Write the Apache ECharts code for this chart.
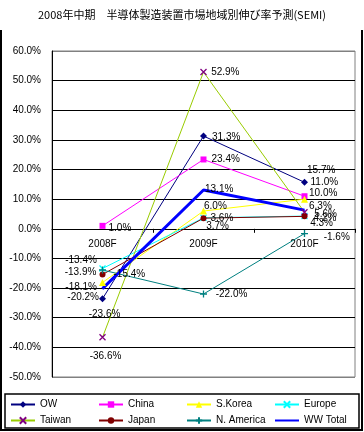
<!DOCTYPE html>
<html><head><meta charset="utf-8">
<script src="https://cdn.jsdelivr.net/npm/echarts@6/dist/echarts.min.js"></script>
<style>html,body{margin:0;padding:0;background:#fff}#c{width:364px;height:432px}</style>
</head><body><div id="c"></div>
<script>
const titleText = '2008年中期　半導体製造装置市場地域別伸び率予測(SEMI)';
const categories = ['2008F', '2009F', '2010F'];
const seriesNames = ['OW', 'China', 'S.Korea', 'Europe', 'Taiwan', 'Japan', 'N. America', 'WW Total'];
const ow = [-23.6, 31.3, 15.7];
const china = [1.0, 23.4, 11.0];
const sKorea = [-18.1, 6.0, 10.0];
const europe = [-13.4, 3.7, 4.3];
const taiwan = [-36.6, 52.9, 5.6];
const japan = [-15.4, 3.6, 4.2];
const nAmerica = [-13.9, -22.0, -1.6];
const wwTotal = [-20.2, 13.1, 6.3];
const yMin = -50, yMax = 60, yStep = 10;

const values = [ow, china, sKorea, europe, taiwan, japan, nAmerica, wwTotal];

// layout
const GRID = {left: 52, right: 9, top: 51, bottom: 55};
const plotH = 432 - GRID.top - GRID.bottom;

// styles
const styles = [
  {line: '#000080', item: '#000080', symbol: 'diamond', size: 7, width: 1},
  {line: '#FF00FF', item: '#FF00FF', symbol: 'rect', size: 6, width: 1},
  {line: '#FFFF00', item: '#FFFF00', symbol: 'triangle', size: 7, width: 1},
  {line: '#00FFFF', item: '#00FFFF', symbol: 'path://M0,0L10,10M10,0L0,10', size: 6, width: 1, stroke: true},
  {line: '#99CC00', item: '#800080', symbol: 'path://M0,0L10,10M10,0L0,10', size: 6, width: 1, stroke: true},
  {line: '#800000', item: '#800000', symbol: 'circle', size: 6, width: 1},
  {line: '#008080', item: '#008080', symbol: 'path://M5,0L5,10M0,5L10,5', size: 7, width: 1, stroke: true},
  {line: '#0000FF', item: '#0000FF', symbol: 'circle', size: 1, width: 3}
];
const labelPlace = [
  [['bottom', 2, 2], ['right', 0, 1], ['right', -6, -12]],
  [['right', -2, 2], ['right', 0, 0], ['right', -2, -14]],
  [['left', 3, 5], ['right', -8, -5], ['right', -4, -6]],
  [['left', 3, -8], ['right', -6, 8], ['right', -3, 7]],
  [['bottom', 3, 5], ['right', -1, 0], ['right', 1, 2]],
  [['right', 3, 0], ['right', -1, 0], ['right', 1, 2]],
  [['left', 3, 2], ['right', 3, 0], ['right', 10, 4]],
  [['left', 2, 9], ['right', -4, -1], ['right', -1, -4]]
];

const FONT = 'Liberation Sans';
const series = seriesNames.map((name, i) => {
  const s = styles[i];
  return {
    name, type: 'line',
    data: values[i].map((v, j) => ({
      value: v,
      label: {position: labelPlace[i][j][0], offset: [labelPlace[i][j][1], labelPlace[i][j][2]]}
    })),
    symbol: s.symbol, symbolSize: s.size, showAllSymbol: true,
    lineStyle: {color: s.line, width: s.width},
    itemStyle: s.stroke ? {color: s.item, borderColor: s.item, borderWidth: 1.3} : {color: s.item, borderWidth: 0},
    label: {show: true, fontSize: 10, fontFamily: FONT, color: '#000', distance: 5,
      formatter: p => p.value.toFixed(1) + '%'},
    emphasis: {disabled: true},
    animation: false
  };
});

const yColors = [];
for (let v = yMin; v <= yMax; v += yStep) yColors.push((v === yMin || v === yMax) ? '#808080' : '#000000');

// x axis sits at the zero line
const zeroOffset = -plotH * (0 - yMin) / (yMax - yMin);

const legendBase = {left: 10, padding: 0, itemWidth: 24, itemHeight: 8, itemGap: 0,
  textStyle: {fontSize: 10, fontFamily: FONT, color: '#000', width: 58, overflow: 'none', lineHeight: 15}};
const legendItems = seriesNames.map(n => n === 'WW Total' ? {name: n, itemStyle: {opacity: 0}} : {name: n});

const chart = echarts.init(document.getElementById('c'), null, {renderer: 'canvas'});
chart.setOption({
  animation: false,
  backgroundColor: '#fff',
  title: {text: titleText, left: 'center', top: 9, padding: 0,
    textStyle: {fontSize: 11, fontWeight: 'normal', color: '#000', fontFamily: 'Noto Sans CJK JP'}},
  grid: Object.assign({show: true, borderColor: '#808080', borderWidth: 1}, GRID),
  xAxis: {type: 'category', data: categories, boundaryGap: true, offset: zeroOffset,
    axisLine: {onZero: false, lineStyle: {color: '#000', width: 1}},
    axisTick: {show: true, length: 4, lineStyle: {color: '#000'}},
    axisLabel: {fontSize: 10, fontFamily: FONT, color: '#000', margin: 10}},
  yAxis: {type: 'value', min: yMin, max: yMax, interval: yStep,
    axisLine: {show: true, lineStyle: {color: '#000', width: 1}},
    axisTick: {show: false},
    axisLabel: {fontSize: 10, fontFamily: FONT, color: '#000', margin: 11, formatter: v => v.toFixed(1) + '%'},
    splitLine: {show: true, lineStyle: {color: yColors, width: 1}}},
  legend: [
    Object.assign({top: 397, data: legendItems.slice(0, 4)}, legendBase),
    Object.assign({top: 413, data: legendItems.slice(4)}, legendBase)
  ],
  series,
  graphic: [
    {type: 'polyline', shape: {points: [[1, 30], [1, 430], [362, 430], [362, 30]]}, style: {stroke: '#000', lineWidth: 2, fill: null}, silent: true},
    {type: 'rect', shape: {x: 5, y: 394, width: 354, height: 34}, style: {stroke: '#000', lineWidth: 1.5, fill: null}, silent: true}
  ]
});
</script></body></html>
